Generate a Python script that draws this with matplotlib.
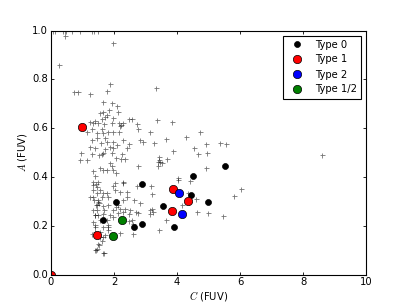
import numpy as np
import matplotlib
matplotlib.use('Agg')
import matplotlib.pyplot as plt

plt.style.use('classic')
plt.rcParams['font.size'] = 7.2
plt.rcParams['mathtext.fontset'] = 'cm'

# all galaxies (C, A) in FUV
all_c = [0.07, 0.13, 0.39, 0.44, 0.49, 0.66, 0.92, 1.29, 1.37, 1.50,
         0.44, 1.96, 0.26, 1.87, 1.77, 0.73, 0.87, 1.24, 3.33, 1.64, 1.95, 2.09,
         1.56, 1.66, 1.71, 1.85, 1.61, 1.79, 2.14, 1.98, 1.40, 1.24, 1.35, 1.50,
         1.68, 1.93, 2.17, 2.30, 2.19, 2.49, 2.56, 2.72, 2.77, 3.14, 3.37, 1.13,
         1.29, 1.45, 1.61, 1.66, 1.82, 1.98, 2.16, 1.45, 1.71, 1.29, 1.77, 1.98,
         2.09, 2.30, 2.83, 2.91, 2.49, 3.27, 1.58, 1.24, 1.40, 1.71, 1.87, 1.98,
         2.40, 2.22,
         3.83, 4.73, 3.64, 4.29, 4.92, 5.37, 5.55, 4.55, 4.66, 4.94, 3.88, 3.43,
         3.69,
         4.92, 8.59, 6.03, 5.81, 4.98, 5.47,
         3.46, 3.41, 4.04, 4.02, 4.41, 4.36, 4.60, 4.15, 4.39, 4.64, 3.65, 3.43,
         1.77, 1.82, 2.14, 2.08, 2.35, 2.14, 2.30, 2.49, 1.96, 1.87, 1.77, 1.66,
         1.56, 1.56, 1.61, 1.53, 1.45, 1.40, 1.66, 1.82, 1.82, 1.71, 1.32, 1.40,
         1.40, 1.29, 1.24, 1.34, 1.45, 1.38, 1.45, 1.32, 1.45, 1.40, 1.50, 1.56,
         1.32, 1.34, 1.45, 1.56, 1.66, 1.61, 1.50, 1.53, 1.66, 1.68, 1.82, 2.03,
         1.96, 2.03, 2.19, 2.28, 2.40, 2.72, 2.42, 3.16, 2.63, 2.83, 2.70, 2.77,
         2.56, 2.61, 2.77, 3.25, 3.20, 3.20, 3.41, 3.51, 3.44,
         0.95, 1.29, 0.92, 1.15, 1.53, 1.61, 1.66, 1.93, 2.24, 2.35, 2.21, 2.06,
         1.87, 1.93, 1.98, 2.06, 1.77, 1.66, 1.56, 1.32, 1.40, 1.32, 1.50, 1.43,
         2.30, 2.28,
         1.43, 1.50, 1.40, 1.64, 1.98, 2.19, 2.51, 3.14, 3.14, 1.43, 1.68, 1.50,
         1.40, 1.82, 1.66, 2.19, 2.49, 2.61]
all_a = [1.00, 1.00, 1.00, 1.00, 1.00, 1.00, 1.00, 1.00, 1.00, 1.00,
         0.977, 0.949, 0.860, 0.781, 0.753, 0.748, 0.748, 0.740, 0.763, 0.705, 0.702, 0.691,
         0.661, 0.665, 0.647, 0.675, 0.637, 0.654, 0.664, 0.641, 0.631, 0.623, 0.620, 0.620,
         0.616, 0.620, 0.620, 0.620, 0.609, 0.637, 0.638, 0.616, 0.595, 0.586, 0.634, 0.586,
         0.595, 0.579, 0.595, 0.579, 0.586, 0.586, 0.582, 0.558, 0.558, 0.551, 0.544, 0.541,
         0.531, 0.551, 0.551, 0.544, 0.534, 0.538, 0.538, 0.521, 0.517, 0.513, 0.524, 0.517,
         0.517, 0.613,
         0.627, 0.582, 0.554, 0.563, 0.535, 0.538, 0.534, 0.517, 0.493, 0.497, 0.508, 0.483,
         0.473,
         0.437, 0.488, 0.351, 0.322, 0.254, 0.241,
         0.462, 0.462, 0.394, 0.387, 0.383, 0.332, 0.309, 0.284, 0.298, 0.256, 0.225, 0.181,
         0.335, 0.318, 0.284, 0.277, 0.270, 0.252, 0.257, 0.250, 0.236, 0.243, 0.222, 0.195,
         0.174, 0.154, 0.137, 0.122, 0.106, 0.099, 0.088, 0.181, 0.195, 0.160, 0.215, 0.195,
         0.174, 0.167, 0.318, 0.318, 0.335, 0.305, 0.284, 0.263, 0.263, 0.243, 0.243, 0.222,
         0.366, 0.346, 0.359, 0.346, 0.332, 0.318, 0.305, 0.291, 0.280, 0.263, 0.284, 0.373,
         0.362, 0.348, 0.339, 0.305, 0.318, 0.362, 0.339, 0.362, 0.305, 0.291, 0.257, 0.252,
         0.222, 0.167, 0.444, 0.257, 0.270, 0.328, 0.444, 0.458, 0.469,
         0.497, 0.494, 0.469, 0.469, 0.490, 0.494, 0.499, 0.497, 0.494, 0.472, 0.472, 0.476,
         0.458, 0.444, 0.428, 0.414, 0.428, 0.428, 0.435, 0.425, 0.403, 0.380, 0.380, 0.369,
         0.373, 0.380,
         0.284, 0.298, 0.243, 0.250, 0.263, 0.270, 0.263, 0.263, 0.250, 0.101, 0.088, 0.123,
         0.202, 0.202, 0.153, 0.170, 0.220, 0.208]

type0_c = [1.65, 2.06, 2.65, 2.89, 2.88, 3.54, 3.90, 4.44, 4.52, 5.51, 4.99]
type0_a = [0.225, 0.299, 0.193, 0.205, 0.369, 0.281, 0.195, 0.325, 0.403, 0.443, 0.297]
type1_c = [0.0, 0.98, 1.45, 3.86, 3.84, 4.36]
type1_a = [0.0, 0.605, 0.163, 0.349, 0.259, 0.300]
type2_c = [4.07, 4.15]
type2_a = [0.332, 0.247]
type12_c = [1.98, 2.25]
type12_a = [0.158, 0.225]

fig = plt.figure(figsize=(4.07, 3.05), dpi=100)
ax = fig.add_axes([0.125, 0.1, 0.775, 0.8])

ax.plot(all_c, all_a, 'k+', ms=3.6, mew=0.6, alpha=0.55)
ax.plot(type0_c, type0_a, 'ko', ms=4.3, mew=0.5, label='Type 0')
ax.plot(type1_c, type1_a, 'ro', ms=6, mew=0.5, label='Type 1')
ax.plot(type2_c, type2_a, 'bo', ms=6, mew=0.5, label='Type 2')
ax.plot(type12_c, type12_a, 'go', ms=6, mew=0.5, label='Type 1/2')

ax.set_xlim(0, 10)
ax.set_ylim(0, 1)
ax.set_xlabel(r'$C$ (FUV)', labelpad=1)
ax.set_ylabel(r'$A$ (FUV)', labelpad=2)
ax.tick_params(which='major', length=2.4, width=0.6, labelsize=7.2, pad=2)
for s in ax.spines.values():
    s.set_linewidth(0.8)

leg = ax.legend(loc='upper right', numpoints=1, fontsize=7.2, fancybox=False,
                borderaxespad=0.5)
leg.get_frame().set_linewidth(0.8)

fig.savefig('out.png', dpi=100)
